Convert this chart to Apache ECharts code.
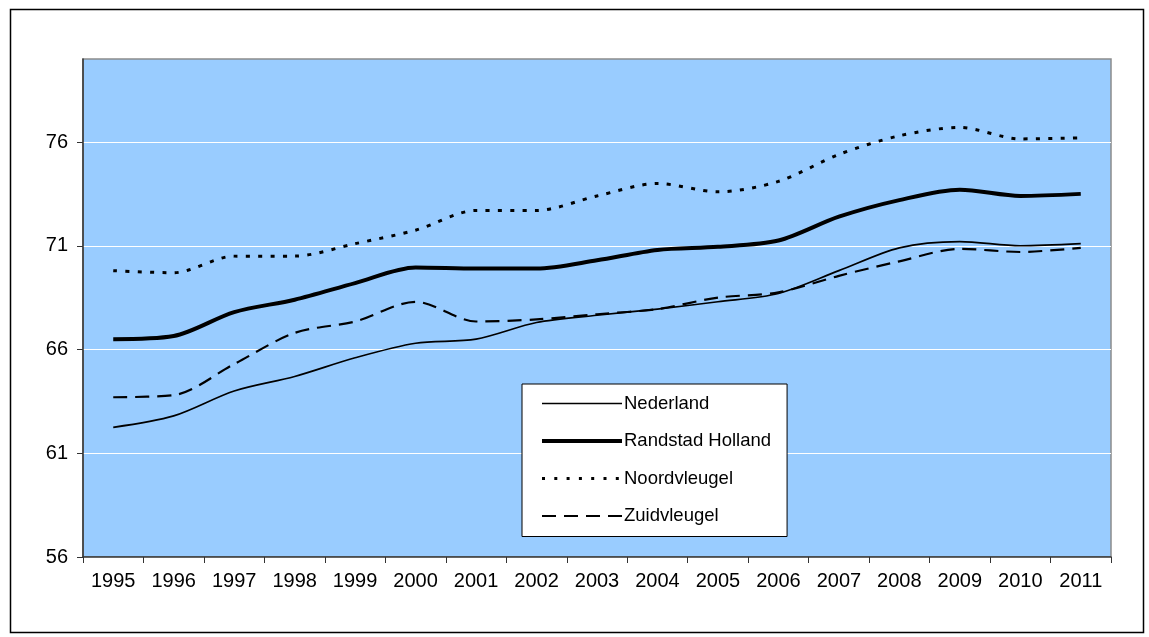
<!DOCTYPE html>
<html>
<head>
<meta charset="utf-8">
<script src="https://cdn.jsdelivr.net/npm/echarts@6/dist/echarts.min.js"></script>
<style>
  html, body { margin: 0; padding: 0; background: #ffffff; }
  #chart { width: 1149px; height: 637px; }
</style>
</head>
<body>
<div id="chart"></div>
<script>
// Years on the category axis
const years = ['1995', '1996', '1997', '1998', '1999', '2000', '2001', '2002', '2003',
               '2004', '2005', '2006', '2007', '2008', '2009', '2010', '2011'];

// Series values per year
const nederland = [62.25, 62.8, 64.0, 64.7, 65.6, 66.3, 66.5, 67.3, 67.65, 67.95, 68.3, 68.7, 69.8, 70.9, 71.2, 71.0, 71.1];
const randstad  = [66.5, 66.65, 67.8, 68.4, 69.2, 69.95, 69.9, 69.9, 70.3, 70.8, 70.95, 71.25, 72.4, 73.2, 73.7, 73.4, 73.5];
const noordvleugel = [69.8, 69.7, 70.5, 70.5, 71.1, 71.75, 72.7, 72.7, 73.4, 74.0, 73.6, 74.1, 75.4, 76.3, 76.7, 76.15, 76.2];
const zuidvleugel  = [63.7, 63.8, 65.3, 66.8, 67.35, 68.3, 67.35, 67.45, 67.7, 67.95, 68.5, 68.75, 69.55, 70.25, 70.85, 70.7, 70.9];

// Value-axis tick labels
const yTicks = [56, 61, 66, 71, 76];

const font = 'Arial, "Liberation Sans", sans-serif';
const chart = echarts.init(document.getElementById('chart'), null, { renderer: 'canvas' });

const styles = {
  'Nederland':        { width: 1.7, type: 'solid' },
  'Randstad Holland': { width: 4,   type: 'solid' },
  'Noordvleugel':     { width: 3,   type: [4, 8.3] },
  'Zuidvleugel':      { width: 2.2, type: [14, 8] }
};

function lineSeries(name, data) {
  return {
    name: name,
    type: 'line',
    data: data,
    smooth: 0.3,
    symbol: 'none',
    showSymbol: false,
    animation: false,
    lineStyle: Object.assign({ color: '#000000', cap: 'butt', join: 'round' }, styles[name]),
    itemStyle: { color: '#000000' }
  };
}

chart.setOption({
  animation: false,
  backgroundColor: '#ffffff',
  graphic: [{
    type: 'rect',
    left: 8, top: 7,
    shape: { width: 1133, height: 623 },
    style: { fill: 'none', stroke: '#000000', lineWidth: 1.5 },
    silent: true,
    z: -1
  }],
  grid: {
    left: 83, right: 38, top: 59, bottom: 80,
    show: true,
    backgroundColor: '#99CCFF',
    borderColor: '#8c8c8c',
    borderWidth: 1.5
  },
  legend: {
    orient: 'vertical',
    left: 522, top: 384,
    padding: [10, 16, 11, 18],
    itemWidth: 80,
    itemHeight: 14,
    itemGap: 18.5,
    backgroundColor: '#ffffff',
    borderColor: '#000000',
    borderWidth: 1,
    borderRadius: 0,
    itemStyle: { opacity: 0 },
    textStyle: { fontFamily: font, fontSize: 18.5, color: '#000000', padding: [0, 0, 0, -3] },
    data: Object.keys(styles).map(function (n) {
      const s = styles[n];
      return {
        name: n,
        itemStyle: { opacity: 0 },
        lineStyle: { width: s.width, type: n === 'Noordvleugel' ? [3, 9.3] : s.type, color: '#000000', cap: 'butt' }
      };
    })
  },
  xAxis: {
    type: 'category',
    data: years,
    boundaryGap: true,
    axisLine: { show: true, lineStyle: { color: '#333333', width: 1.5 } },
    axisTick: { show: true, length: 6, lineStyle: { color: '#333333', width: 1 } },
    axisLabel: { fontFamily: font, fontSize: 20, color: '#000000', margin: 14 },
    splitLine: { show: false }
  },
  yAxis: {
    type: 'value',
    min: 56,
    max: 80,
    axisLine: { show: true, lineStyle: { color: '#333333', width: 1.5 } },
    axisTick: { show: true, length: 6, customValues: yTicks, lineStyle: { color: '#333333', width: 1 } },
    axisLabel: { fontFamily: font, fontSize: 20, color: '#000000', margin: 15, customValues: yTicks },
    splitLine: { show: true, lineStyle: { color: '#ffffff', width: 1 } }
  },
  series: [
    lineSeries('Nederland', nederland),
    lineSeries('Randstad Holland', randstad),
    lineSeries('Noordvleugel', noordvleugel),
    lineSeries('Zuidvleugel', zuidvleugel)
  ]
});
</script>
</body>
</html>
